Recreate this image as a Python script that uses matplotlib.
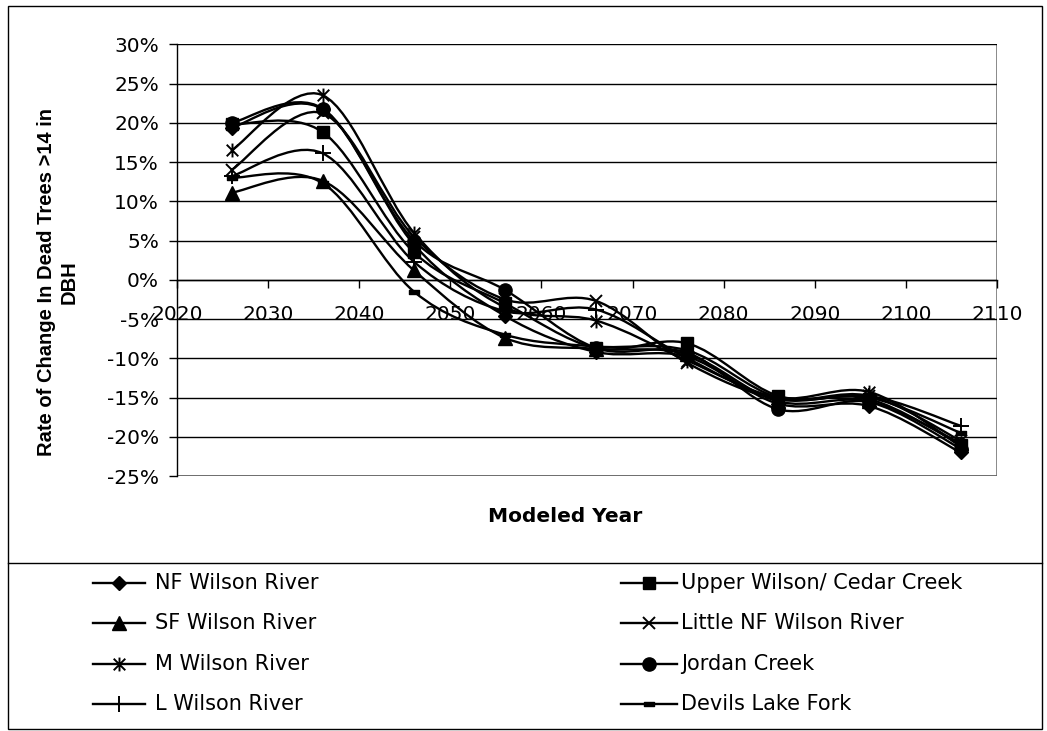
import numpy as np
import matplotlib
matplotlib.use("Agg")
import matplotlib.pyplot as plt
from matplotlib.path import Path
from matplotlib.patches import PathPatch, Rectangle
from matplotlib.lines import Line2D
from matplotlib.ticker import FuncFormatter, MultipleLocator

# ---- data (percent change per modeled year) ----
years = [2026, 2036, 2046, 2056, 2066, 2076, 2086, 2096, 2106]

nf_wilson = [19.4, 21.7, 4.5, -4.6, -9.2, -9.8, -15.8, -16.1, -22.0]
upper_wilson_cedar = [19.8, 18.8, 3.5, -3.0, -8.7, -8.1, -14.8, -15.2, -21.0]
sf_wilson = [11.1, 12.6, 1.2, -7.4, -8.8, -9.5, -15.5, -15.5, -20.8]
little_nf_wilson = [14.0, 21.2, 5.5, -2.5, -2.7, -10.6, -15.2, -14.8, -20.5]
m_wilson = [16.5, 23.5, 6.0, -3.5, -5.2, -10.3, -15.0, -14.3, -21.2]
jordan_creek = [20.0, 21.8, 5.0, -1.3, -8.7, -9.3, -16.5, -15.6, -21.5]
l_wilson = [13.2, 16.1, 2.3, -4.0, -3.8, -10.0, -15.2, -14.8, -18.6]
devils_lake_fork = [13.0, 12.3, -1.5, -7.0, -8.5, -9.0, -15.0, -15.0, -19.5]

series_names = ["NF Wilson River", "Upper Wilson/ Cedar Creek", "SF Wilson River",
                "Little NF Wilson River", "M Wilson River", "Jordan Creek",
                "L Wilson River", "Devils Lake Fork"]
series_values = [nf_wilson, upper_wilson_cedar, sf_wilson, little_nf_wilson,
                 m_wilson, jordan_creek, l_wilson, devils_lake_fork]

x_ticks = [2020, 2030, 2040, 2050, 2060, 2070, 2080, 2090, 2100, 2110]
y_ticks = [-25, -20, -15, -10, -5, 0, 5, 10, 15, 20, 25, 30]

# ---- marker shapes ----
asterisk = Path([(-1, -1), (1, 1), (-1, 1), (1, -1), (0, -1.2), (0, 1.2)],
                [Path.MOVETO, Path.LINETO, Path.MOVETO, Path.LINETO, Path.MOVETO, Path.LINETO])
short_dash = Path([(-1, -0.4), (1, -0.4), (1, 0.4), (-1, 0.4), (-1, -0.4)],
                  [Path.MOVETO, Path.LINETO, Path.LINETO, Path.LINETO, Path.CLOSEPOLY])

marker_styles = [
    dict(marker="D", markersize=7.5, markerfacecolor="black"),
    dict(marker="s", markersize=9, markerfacecolor="black"),
    dict(marker="^", markersize=9.5, markerfacecolor="black"),
    dict(marker="x", markersize=8, markeredgewidth=1.4),
    dict(marker=asterisk, markersize=10, markeredgewidth=1.4),
    dict(marker="o", markersize=9.5, markerfacecolor="black"),
    dict(marker="+", markersize=11, markeredgewidth=1.4),
    dict(marker=short_dash, markersize=7.5, markerfacecolor="black"),
]

LW = 1.7
W, H = 1047, 731


def smooth_path(x, y):
    """Catmull-Rom style cubic Bezier path through the points."""
    pts = np.column_stack([x, y]).astype(float)
    ext = np.vstack([pts[0], pts, pts[-1]])
    verts = [pts[0]]
    codes = [Path.MOVETO]
    for i in range(len(pts) - 1):
        p0, p1, p2, p3 = ext[i], ext[i + 1], ext[i + 2], ext[i + 3]
        c1 = p1 + (p2 - p0) / 6.0
        c2 = p2 - (p3 - p1) / 6.0
        verts += [c1, c2, p2]
        codes += [Path.CURVE4] * 3
    return Path(verts, codes)


fig = plt.figure(figsize=(W / 100, H / 100), dpi=100)
fig.patch.set_facecolor("white")

ax = fig.add_axes([177 / W, (H - 476) / H, 820 / W, 431.7 / H])
ax.set_xlim(2020, 2110)
ax.set_ylim(-25, 30)

# plot-area frame (grey) and gridlines
ax.add_patch(Rectangle((0, 0), 1, 1, transform=ax.transAxes, fill=False,
                       edgecolor="#808080", linewidth=1.3, zorder=0.5))
ax.set_yticks(y_ticks)
ax.set_xticks(x_ticks)
ax.yaxis.grid(True, color="black", linewidth=1.0, zorder=0.6)
ax.set_axisbelow(True)

for side in ("top", "right"):
    ax.spines[side].set_visible(False)
ax.spines["left"].set_color("black")
ax.spines["left"].set_linewidth(1.0)
ax.spines["bottom"].set_position(("data", 0))
ax.spines["bottom"].set_color("black")
ax.spines["bottom"].set_linewidth(1.0)

pct = FuncFormatter(lambda v, p: f"{v:.0f}%")
ax.yaxis.set_major_formatter(pct)
ax.tick_params(axis="y", direction="out", length=6, width=1, pad=7,
               labelsize=14.5, labelfontfamily="DejaVu Sans")
ax.tick_params(axis="x", direction="out", length=6, width=1, pad=12,
               labelsize=14.5, labelfontfamily="DejaVu Sans")

for vals, style in zip(series_values, marker_styles):
    ax.add_patch(PathPatch(smooth_path(years, vals), facecolor="none",
                           edgecolor="black", linewidth=LW, zorder=3,
                           capstyle="round", joinstyle="round"))
    ax.plot(years, vals, linestyle="none", color="black",
            markeredgecolor="black", zorder=4, clip_on=False, **style)

# axis titles
fig.text(58 / W, 1 - 282 / H, "Rate of Change In Dead Trees >14 in\nDBH",
         rotation=90, ha="center", va="center", multialignment="center",
         fontsize=14.5, fontweight="bold", family="Liberation Sans",
         linespacing=1.25)
fig.text(565 / W, 1 - 517 / H, "Modeled Year", ha="center", va="center",
         fontsize=14.5, fontweight="bold", family="DejaVu Sans")

# outer chart border and legend separator
fig.add_artist(Rectangle((8 / W, 1 - 729 / H), (1042 - 8) / W, (729 - 6) / H,
                         transform=fig.transFigure, fill=False,
                         edgecolor="black", linewidth=1.0))
fig.add_artist(Line2D([8 / W, 1042 / W], [1 - 563 / H] * 2,
                      transform=fig.transFigure, color="black", linewidth=1.0))

# legend: two columns, four rows
row_y = [583, 623, 664, 704]
col_line = [(93, 145), (621, 677)]
col_text = [155, 681]
for k, (name, style) in enumerate(zip(series_names, marker_styles)):
    col, row = k % 2, k // 2
    x0, x1 = col_line[col]
    yy = 1 - row_y[row] / H
    fig.add_artist(Line2D([x0 / W, (x0 + x1) / 2 / W, x1 / W], [yy] * 3,
                          transform=fig.transFigure, color="black",
                          linewidth=LW, markevery=[1],
                          markeredgecolor="black", **style))
    fig.text(col_text[col] / W, yy, name, ha="left", va="center",
             fontsize=15, family="DejaVu Sans")

fig.savefig("out.png", dpi=100)
